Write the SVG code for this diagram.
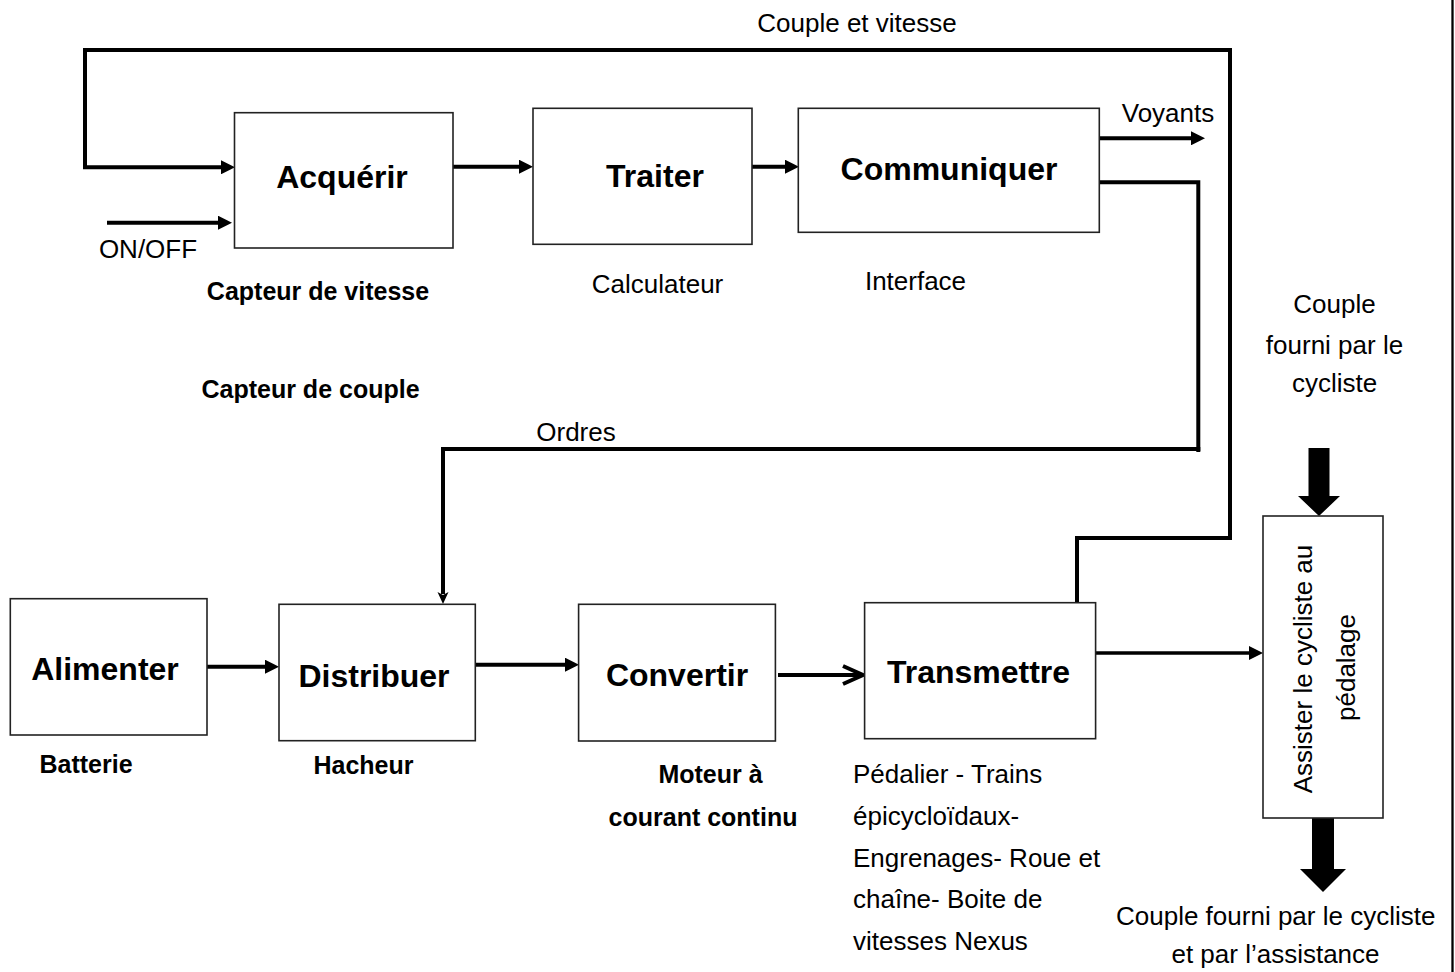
<svg xmlns="http://www.w3.org/2000/svg" width="1455" height="972" viewBox="0 0 1455 972">
<style>
  .box{fill:#fff;stroke:#222;stroke-width:1.6}
  .wire{fill:none;stroke:#000;stroke-width:4;stroke-linejoin:miter;stroke-linecap:butt}
  .big{font-family:"Liberation Sans",Arial,sans-serif;font-weight:bold;font-size:32px;fill:#000;text-anchor:middle}
  .reg{font-family:"Liberation Sans",Arial,sans-serif;font-size:26px;fill:#000}
  .sub{font-family:"Liberation Sans",Arial,sans-serif;font-weight:bold;font-size:25px;fill:#000}
  .mid{text-anchor:middle}
  .blk{fill:#000;stroke:none}
</style>
<defs>
  <marker id="ah" markerUnits="userSpaceOnUse" markerWidth="14" markerHeight="14" refX="2" refY="7" orient="auto">
    <path d="M0,0 L14,7 L0,14 z" fill="#000"/>
  </marker>
  <marker id="ahs" markerUnits="userSpaceOnUse" markerWidth="12" markerHeight="12" refX="2" refY="5.5" orient="auto">
    <path d="M0,0 L12,5.5 L0,11 L3,5.5 z" fill="#000"/>
  </marker>
</defs>

<rect x="0" y="0" width="1455" height="972" fill="#fff"/>
<line x1="1452.5" y1="0" x2="1452.5" y2="972" stroke="#000" stroke-width="2.3"/>

<g id="connectors">
  <!-- Couple et vitesse feedback -->
  <path class="wire" d="M1077,602.7 V538 H1230 V50 H85 V167.3 H223" marker-end="url(#ah)"/>
  <!-- ON/OFF -->
  <path class="wire" d="M107,222.7 H220" marker-end="url(#ah)"/>
  <!-- Acquerir -> Traiter -->
  <path class="wire" d="M446,166.7 H521" marker-end="url(#ah)"/>
  <!-- Traiter -> Communiquer -->
  <path class="wire" d="M750,166.7 H787" marker-end="url(#ah)"/>
  <!-- Voyants -->
  <path class="wire" d="M1099,138.3 H1193" marker-end="url(#ah)"/>
  <!-- Ordres -->
  <path class="wire" d="M1099,182.3 H1198.3 V449 H443 V594" marker-end="url(#ahs)"/>
  <line x1="1198.3" y1="447" x2="1198.3" y2="452" stroke="#000" stroke-width="4"/>
  <!-- Alimenter -> Distribuer -->
  <path class="wire" d="M207,666.7 H267" marker-end="url(#ah)"/>
  <!-- Distribuer -> Convertir -->
  <path class="wire" d="M475,664.7 H567" marker-end="url(#ah)"/>
  <!-- Convertir -> Transmettre (open arrow) -->
  <path class="wire" d="M778,675 H862"/>
  <path class="wire" d="M843,666 L863,675 L843,684"/>
  <!-- Transmettre -> Assister -->
  <path class="wire" d="M1096,653 H1251" marker-end="url(#ah)" style="stroke-width:3.6"/>
  <!-- thick block arrows -->
  <polygon class="blk" points="1308.5,448 1329.5,448 1329.5,496 1340,496 1319,516 1298,496 1308.5,496"/>
  <polygon class="blk" points="1312,818 1334,818 1334,869 1346,869 1323,892 1300,869 1312,869"/>
</g>

<g id="acquerir">
  <rect class="box" x="234.5" y="112.7" width="218.5" height="135.3"/>
  <text class="big" x="342" y="188">Acquérir</text>
</g>
<g id="traiter">
  <rect class="box" x="533" y="108.3" width="219" height="136"/>
  <text class="big" x="655" y="186.7">Traiter</text>
</g>
<g id="communiquer">
  <rect class="box" x="798.3" y="108.3" width="301" height="124"/>
  <text class="big" x="949" y="180">Communiquer</text>
</g>
<g id="alimenter">
  <rect class="box" x="10.3" y="598.7" width="196.7" height="136.3"/>
  <text class="big" x="105" y="680">Alimenter</text>
</g>
<g id="distribuer">
  <rect class="box" x="279" y="604.3" width="196.3" height="136.4"/>
  <text class="big" x="374" y="686.7">Distribuer</text>
</g>
<g id="convertir">
  <rect class="box" x="578.6" y="604.3" width="196.8" height="136.7"/>
  <text class="big" x="677" y="686">Convertir</text>
</g>
<g id="transmettre">
  <rect class="box" x="864.6" y="602.7" width="231" height="136"/>
  <text class="big" x="978.5" y="683.3">Transmettre</text>
</g>
<g id="assister">
  <rect class="box" x="1263" y="516" width="120" height="302"/>
  <text class="reg mid" transform="translate(1312,669) rotate(-90)">Assister le cycliste au</text>
  <text class="reg mid" transform="translate(1355,667.5) rotate(-90)">pédalage</text>
</g>

<g id="labels">
  <text class="reg mid" x="857" y="32">Couple et vitesse</text>
  <text class="reg mid" x="1168" y="121.7">Voyants</text>
  <text class="reg mid" x="148" y="258">ON/OFF</text>
  <text class="sub mid" x="318" y="300">Capteur de vitesse</text>
  <text class="sub mid" x="310.5" y="398">Capteur de couple</text>
  <text class="reg mid" x="657.5" y="293">Calculateur</text>
  <text class="reg mid" x="915.5" y="290">Interface</text>
  <text class="reg mid" x="576" y="441">Ordres</text>
  <text class="reg mid" x="1334.5" y="313.3">Couple</text>
  <text class="reg mid" x="1334.5" y="354.3">fourni par le</text>
  <text class="reg mid" x="1334.5" y="391.7">cycliste</text>
  <text class="sub mid" x="86" y="772.7">Batterie</text>
  <text class="sub mid" x="363.5" y="774.3">Hacheur</text>
  <text class="sub mid" x="710.5" y="783.3">Moteur à</text>
  <text class="sub mid" x="703" y="826">courant continu</text>
  <text class="reg" x="853" y="782.7">Pédalier - Trains</text>
  <text class="reg" x="853" y="825">épicycloïdaux-</text>
  <text class="reg" x="853" y="866.5">Engrenages- Roue et</text>
  <text class="reg" x="853" y="908">chaîne- Boite de</text>
  <text class="reg" x="853" y="949.5">vitesses Nexus</text>
  <text class="reg mid" x="1275.7" y="925">Couple fourni par le cycliste</text>
  <text class="reg mid" x="1275.5" y="963.3">et par l’assistance</text>
</g>
</svg>
